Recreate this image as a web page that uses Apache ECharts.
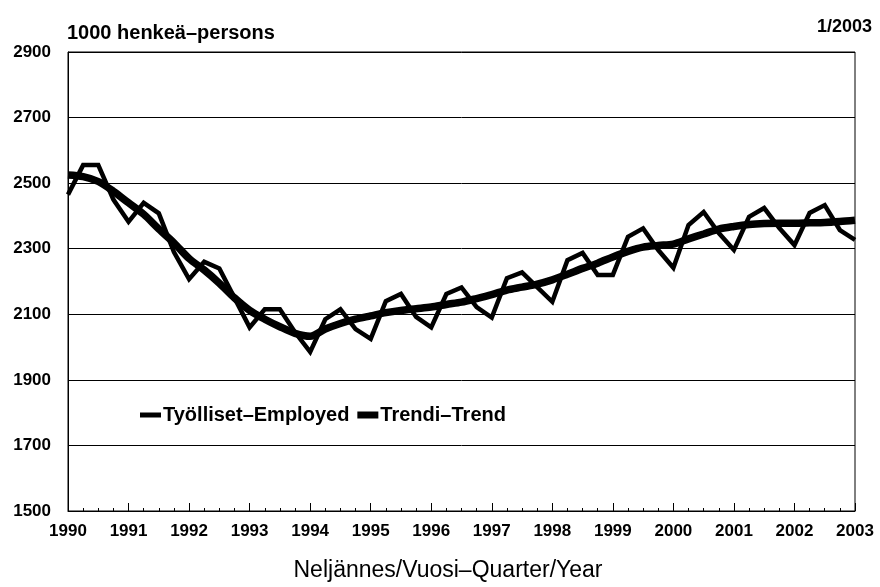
<!DOCTYPE html>
<html>
<head>
<meta charset="utf-8">
<script src="https://cdn.jsdelivr.net/npm/echarts@6/dist/echarts.min.js"></script>
<style>
html,body{margin:0;padding:0;background:#fff;}
#chart{width:880px;height:587px;}
</style>
</head>
<body>
<div id="chart"></div>
<script>
// Quarterly data, 1990Q1 .. 2003Q1 (1000 persons)
var startYear = 1990;
var employed = [
  2465, 2555, 2555, 2450,
  2382, 2440, 2408, 2290,
  2207, 2260, 2240, 2150,
  2060, 2115, 2115, 2045,
  1985, 2085, 2115, 2055,
  2025, 2140, 2162, 2092,
  2060, 2162, 2182, 2122,
  2090, 2210, 2228, 2183,
  2138, 2265, 2287, 2220,
  2220, 2336, 2362, 2296,
  2242, 2372, 2412, 2348,
  2296, 2397, 2424, 2363,
  2311, 2409, 2433, 2357,
  2327
];
var trend = [
  2525, 2520, 2505, 2475,
  2440, 2405, 2360, 2318,
  2270, 2235, 2195, 2150,
  2112, 2085, 2062, 2042,
  2033, 2055, 2072, 2085,
  2095, 2105, 2112, 2117,
  2122, 2130, 2137, 2148,
  2160, 2174, 2183, 2192,
  2205, 2222, 2240, 2256,
  2275, 2292, 2305, 2310,
  2314, 2330, 2345, 2360,
  2368, 2374, 2377, 2378,
  2378, 2379, 2380, 2383,
  2387
];
var yearLabels = ['1990','1991','1992','1993','1994','1995','1996','1997','1998','1999','2000','2001','2002','2003'];
var seriesNames = ['Työlliset\u2013Employed', 'Trendi\u2013Trend'];
var unitLabel = '1000 henkeä\u2013persons';
var dateLabel = '1/2003';
var xAxisTitle = 'Neljännes/Vuosi\u2013Quarter/Year';

function toPairs(arr) {
  return arr.map(function (v, i) { return [startYear + i / 4, v]; });
}

var FONT = '"Liberation Sans", Arial, sans-serif';
var chart = echarts.init(document.getElementById('chart'), null, {renderer: 'canvas'});
chart.setOption({
  backgroundColor: '#ffffff',
  animation: false,
  title: [
    {text: unitLabel, left: 67, top: 23, padding: 0, textStyle: {fontFamily: FONT, fontSize: 20, fontWeight: 'bold', color: '#000'}},
    {text: dateLabel, right: 8, top: 18, padding: 0, textStyle: {fontFamily: FONT, fontSize: 18, fontWeight: 'bold', color: '#000'}},
    {text: xAxisTitle, left: 448, textAlign: 'center', top: 559, padding: 0, textStyle: {fontFamily: FONT, fontSize: 23, fontWeight: 'normal', color: '#000'}}
  ],
  legend: {
    left: 140, top: 405, padding: 0,
    itemWidth: 21, itemHeight: 14, itemGap: 8,
    textStyle: {fontFamily: FONT, fontSize: 20, fontWeight: 'bold', color: '#000', padding: [0, 0, 0, -3]},
    data: [
      {name: seriesNames[0], icon: 'path://M0,0H21V5H0Z'},
      {name: seriesNames[1], icon: 'path://M0,0H21V7H0Z'}
    ]
  },
  grid: {left: 68, right: 25, top: 52, bottom: 76, show: true, borderColor: '#000', borderWidth: 1},
  xAxis: {
    type: 'value', min: 1990, max: 2003, interval: 1,
    axisLine: {show: true, lineStyle: {color: '#000', width: 1}},
    axisTick: {show: true, inside: true, length: 8, lineStyle: {color: '#000'}},
    minorTick: {show: true, splitNumber: 4, length: 3, lineStyle: {color: '#000'}},
    splitLine: {show: false},
    axisLabel: {
      fontFamily: FONT, fontSize: 17, fontWeight: 'bold', color: '#000', margin: 12,
      formatter: function (v) { return yearLabels[Math.round(v - startYear)]; }
    }
  },
  yAxis: {
    type: 'value', min: 1500, max: 2900, interval: 200,
    axisLine: {show: true, lineStyle: {color: '#000', width: 1}},
    axisTick: {show: false},
    splitLine: {show: true, lineStyle: {color: '#000', width: 1}},
    axisLabel: {fontFamily: FONT, fontSize: 17, fontWeight: 'bold', color: '#000', margin: 17,
      formatter: function (v) { return String(v); }}
  },
  series: [
    {
      name: seriesNames[0], type: 'line', data: toPairs(employed),
      symbol: 'none', lineStyle: {color: '#000', width: 4.5, join: 'miter'}, itemStyle: {color: '#000'}
    },
    {
      name: seriesNames[1], type: 'line', data: toPairs(trend), smooth: 0.3,
      symbol: 'none', lineStyle: {color: '#000', width: 7.5}, itemStyle: {color: '#000'}
    }
  ]
});
</script>
</body>
</html>
